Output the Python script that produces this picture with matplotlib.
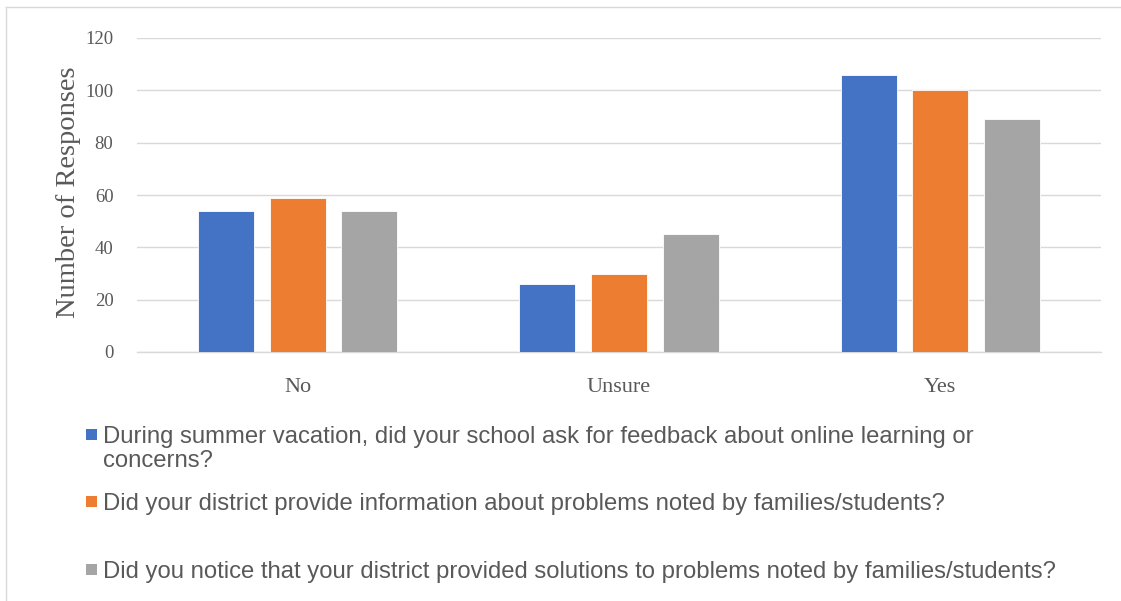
import matplotlib
matplotlib.use("Agg")
import matplotlib.pyplot as plt
from matplotlib.patches import Rectangle
from matplotlib.lines import Line2D
import numpy as np

categories = ["No", "Unsure", "Yes"]
series_labels = [
    "During summer vacation, did your school ask for feedback about online learning or\nconcerns?",
    "Did your district provide information about problems noted by families/students?",
    "Did you notice that your district provided solutions to problems noted by families/students?",
]
school_feedback = [54, 26, 106]
district_info = [59, 30, 100]
district_solutions = [54, 45, 89]
y_ticks = [0, 20, 40, 60, 80, 100, 120]
y_label = "Number of Responses"

colors = ["#4472C4", "#ED7D31", "#A5A5A5"]
W, H = 1121, 601
fig = plt.figure(figsize=(W / 100, H / 100), dpi=100)
fig.patch.set_facecolor("white")

ax = fig.add_axes([137 / W, (H - 352) / H, (1101 - 137) / W, (352 - 38) / H])
x = np.arange(len(categories))
bw = 0.175
offs = [-0.223, 0.0, 0.223]
for vals, c, o, lab in zip([school_feedback, district_info, district_solutions], colors, offs, series_labels):
    ax.bar(x + o, vals, width=bw, color=c, edgecolor="white", linewidth=0.6, zorder=3, label=lab)

ax.set_xlim(-0.5, 2.5)
ax.set_ylim(0, 120)
ax.set_yticks(y_ticks)
ax.set_yticklabels([str(v) for v in y_ticks])
ax.set_xticks(x)
ax.set_xticklabels(categories)
ax.grid(axis="y", color="#d9d9d9", linewidth=1.0, zorder=0)
for s in ["top", "right", "left"]:
    ax.spines[s].set_visible(False)
ax.spines["bottom"].set_color("#d9d9d9")
ax.spines["bottom"].set_linewidth(1.0)
ax.tick_params(axis="both", length=0, colors="#595959")
ax.tick_params(axis="y", pad=17)
ax.tick_params(axis="x", pad=18.5)
for t in ax.get_yticklabels():
    t.set_fontfamily("Liberation Serif")
    t.set_fontsize(13.5)
for t in ax.get_xticklabels():
    t.set_fontfamily("Liberation Serif")
    t.set_fontsize(16)
ax.set_ylabel(y_label, fontfamily="Liberation Serif", fontsize=20.5, color="#595959")
ax.yaxis.set_label_coords((81 - 137) / (1101 - 137), 0.508)

# chart border (top and left visible)
fig.add_artist(Line2D([6 / W, 6 / W], [0, 1 - 7 / H], transform=fig.transFigure, color="#d9d9d9", linewidth=1.0))
fig.add_artist(Line2D([6 / W, 1], [1 - 7 / H, 1 - 7 / H], transform=fig.transFigure, color="#d9d9d9", linewidth=1.0))

# legend
entry_baselines = [443, 510, 578]
line_step = 24
for lab, c, yb in zip(series_labels, colors, entry_baselines):
    fig.add_artist(Rectangle((86 / W, 1 - (yb - 3) / H), 11 / W, 11 / H, transform=fig.transFigure,
                             facecolor=c, edgecolor="none"))
    for i, line in enumerate(lab.split("\n")):
        fig.text(103 / W, 1 - (yb + i * line_step) / H, line, fontfamily="Liberation Sans", fontsize=17.2,
                 color="#595959", va="baseline", ha="left")

fig.savefig("out.png", dpi=100, facecolor="white")
